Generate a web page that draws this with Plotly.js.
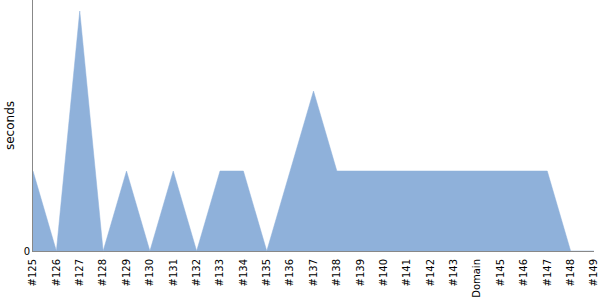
<!DOCTYPE html>
<html><head><meta charset="utf-8">
<script src="https://cdn.plot.ly/plotly-3.0.1.min.js"></script>
<style>html,body{margin:0;padding:0;background:#fff}#chart{width:600px;height:300px}</style>
</head><body><div id="chart"></div>
<script>
const categories = ["#125","#126","#127","#128","#129","#130","#131","#132","#133","#134","#135","#136","#137","#138","#139","#140","#141","#142","#143","Domain","#145","#146","#147","#148","#149"];
const seconds = [1,0,3,0,1,0,1,0,1,1,0,1,2,1,1,1,1,1,1,1,1,1,1,0,0];
const yTicks = [0];
const yTickText = ["0"];
const FONT = "'DejaVu Sans', Verdana, sans-serif";

Plotly.newPlot("chart", [{
  type: "scatter", mode: "lines", x: categories, y: seconds,
  fill: "tozeroy", fillcolor: "#8fb1da",
  line: {color: "#8fb1da", width: 0.5}, hoverinfo: "none"
}], {
  width: 600, height: 300,
  margin: {l: 33, r: 6, t: 0, b: 49, pad: 0},
  paper_bgcolor: "#fff", plot_bgcolor: "#fff",
  font: {family: FONT, size: 10, color: "#000"},
  showlegend: false,
  xaxis: {type: "category", range: [0, 24], showgrid: false, zeroline: false,
    showline: true, linecolor: "#888", linewidth: 1, ticks: "", tickangle: -90,
    ticklabelstandoff: 3,
    tickfont: {family: FONT, size: 10, color: "#000"}},
  yaxis: {range: [0, 3.1375], showgrid: false, zeroline: false, showline: true,
    linecolor: "#888", linewidth: 1, ticks: "", tickvals: yTicks, ticktext: yTickText,
    tickfont: {family: FONT, size: 10, color: "#000"},
    title: {text: "seconds", font: {family: FONT, size: 12, color: "#000"}, standoff: 6}}
}, {displayModeBar: false, staticPlot: true});
</script></body></html>
